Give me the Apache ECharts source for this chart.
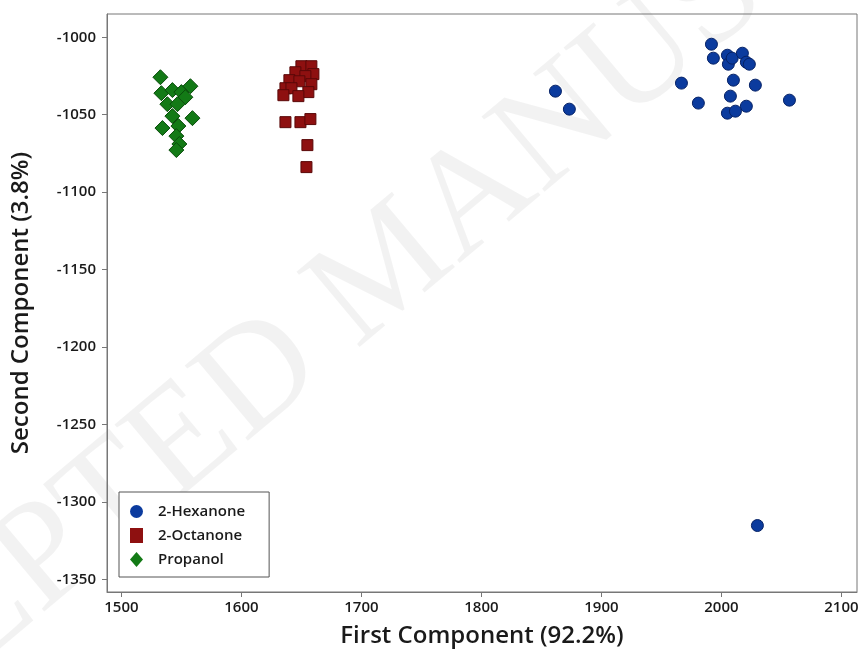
<!DOCTYPE html>
<html><head><meta charset="utf-8">
<script src="https://cdn.jsdelivr.net/npm/echarts@6/dist/echarts.min.js"></script>
<style>html,body{margin:0;padding:0;background:#fff}#c{width:865px;height:659px}</style>
</head><body><div id="c"></div>
<script>
const xTicks = [1500, 1600, 1700, 1800, 1900, 2000, 2100];
const yTicks = [-1000, -1050, -1100, -1150, -1200, -1250, -1300, -1350];
const seriesNames = ['2-Hexanone', '2-Octanone', 'Propanol'];
const hexanone = [
  [1861.7, -1034.8], [1873.3, -1046.4], [1966.7, -1029.6], [1980.8, -1042.5],
  [1991.7, -1004.5], [1993.3, -1013.5], [2005.0, -1011.6], [2005.8, -1017.4],
  [2009.0, -1013.5], [2017.5, -1010.3], [2020.8, -1016.1], [2023.3, -1017.4],
  [2010.0, -1027.7], [2028.3, -1030.9], [2007.5, -1038.0], [2020.8, -1044.5],
  [2005.0, -1049.0], [2011.7, -1047.7], [2056.7, -1040.6], [2030.0, -1315.1]
];
const octanone = [
  [1650.0, -1018.7], [1658.3, -1018.7], [1660.0, -1023.8], [1645.0, -1022.6],
  [1653.3, -1025.1], [1640.0, -1027.7], [1648.3, -1028.4], [1658.3, -1030.3],
  [1655.8, -1035.4], [1636.7, -1032.9], [1641.7, -1032.9], [1635.0, -1037.4],
  [1647.5, -1038.0], [1636.7, -1054.8], [1649.2, -1054.8], [1657.5, -1052.8],
  [1655.0, -1069.6], [1654.2, -1083.8]
];
const propanol = [
  [1532.5, -1025.8], [1533.3, -1036.1], [1542.5, -1034.1], [1550.0, -1035.4],
  [1557.5, -1031.6], [1553.3, -1038.7], [1538.3, -1043.2], [1546.7, -1043.2],
  [1542.5, -1050.9], [1559.2, -1052.2], [1534.2, -1058.6], [1547.5, -1057.3],
  [1545.8, -1063.8], [1548.3, -1068.9], [1545.8, -1072.8]
];

const font = '"Open Sans", "Noto Sans", sans-serif';
const plain = v => String(v);
const chart = echarts.init(document.getElementById('c'), null, {renderer: 'canvas'});
chart.setOption({
  animation: false,
  backgroundColor: '#fff',
  graphic: [{
    type: 'text', z: -10, x: 390, y: 270, rotation: 40 * Math.PI / 180,
    style: {text: 'ACCEPTED MANUSCRIPT', font: '150px "Liberation Serif", serif', fill: 'rgba(0,0,0,0.05)',
            align: 'center', verticalAlign: 'middle'}
  }],
  grid: {left: 107, right: 8, top: 14, bottom: 67, show: true, borderColor: '#777', borderWidth: 1, backgroundColor: 'transparent'},
  xAxis: {
    type: 'value', min: 1488, max: 2113,
    name: 'First Component (92.2%)', nameLocation: 'middle', nameGap: 32,
    nameTextStyle: {fontFamily: font, fontSize: 24, fontWeight: 600, color: '#1a1a1a'},
    splitLine: {show: false},
    axisLine: {show: true, onZero: false, lineStyle: {color: '#777'}},
    axisTick: {show: true, customValues: xTicks, length: 5, lineStyle: {color: '#777'}},
    axisLabel: {customValues: xTicks, formatter: plain, fontFamily: font, fontSize: 15, fontWeight: 600, color: '#1a1a1a', margin: 8}
  },
  yAxis: {
    type: 'value', min: -1358, max: -985,
    name: 'Second Component (3.8%)', nameLocation: 'middle', nameGap: 74, nameRotate: 90,
    nameTextStyle: {fontFamily: font, fontSize: 24, fontWeight: 600, color: '#1a1a1a'},
    splitLine: {show: false},
    axisLine: {show: true, onZero: false, lineStyle: {color: '#777'}},
    axisTick: {show: true, customValues: yTicks, length: 5, lineStyle: {color: '#777'}},
    axisLabel: {customValues: yTicks, formatter: plain, fontFamily: font, fontSize: 15, fontWeight: 600, color: '#1a1a1a', margin: 11}
  },
  legend: {
    orient: 'vertical', left: 119, top: 492,
    padding: [12, 24, 10, 11], itemGap: 9, itemWidth: 13, itemHeight: 15,
    borderColor: '#555', borderWidth: 1, backgroundColor: '#fff',
    textStyle: {fontFamily: font, fontSize: 15, fontWeight: 600, color: '#1a1a1a', padding: [0, 0, 0, 10]},
    data: [
      {name: seriesNames[0], icon: 'circle', itemStyle: {borderWidth: 0}},
      {name: seriesNames[1], icon: 'rect', itemStyle: {borderWidth: 0}},
      {name: seriesNames[2], icon: 'diamond', itemStyle: {borderWidth: 0}}
    ]
  },
  series: [
    {name: seriesNames[0], type: 'scatter', symbol: 'circle', symbolSize: 12, data: hexanone,
     itemStyle: {color: '#0b3b9e', borderColor: '#062266', borderWidth: 1, opacity: 1}},
    {name: seriesNames[1], type: 'scatter', symbol: 'rect', symbolSize: 11, data: octanone,
     itemStyle: {color: '#8e1010', borderColor: '#5a0808', borderWidth: 1, opacity: 1}},
    {name: seriesNames[2], type: 'scatter', symbol: 'diamond', symbolSize: 15, data: propanol,
     itemStyle: {color: '#137a16', borderColor: '#0a4d0c', borderWidth: 1, opacity: 1}}
  ]
});
</script>
</body></html>
